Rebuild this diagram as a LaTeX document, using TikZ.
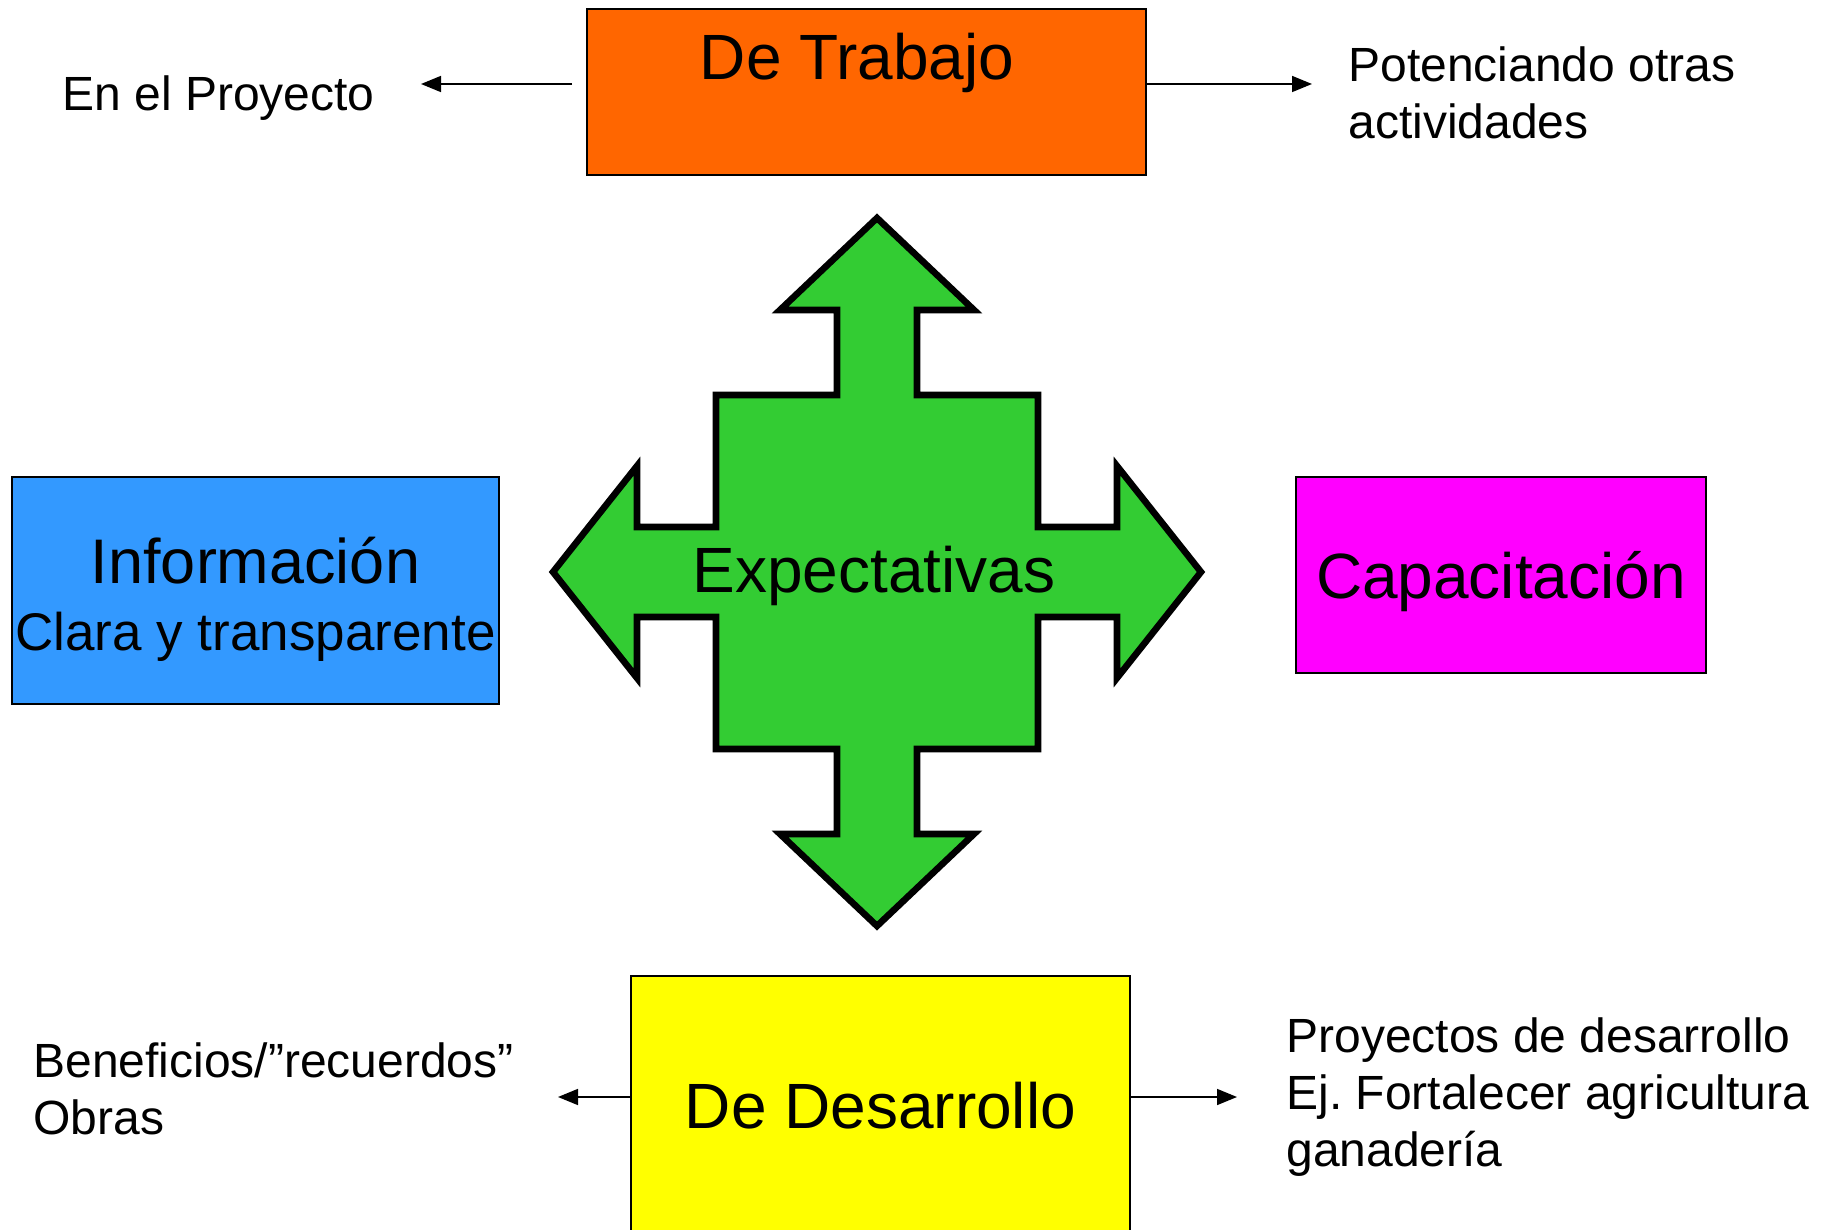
\documentclass[tikz,border=0pt]{standalone}
\usepackage{fontspec}
\setmainfont{Liberation Sans}
\usetikzlibrary{arrows.meta, positioning}
\definecolor{naranja}{HTML}{FF6600}
\definecolor{azul}{HTML}{3399FF}
\definecolor{fucsia}{HTML}{FF00FF}
\definecolor{amarillo}{HTML}{FFFF00}
\definecolor{verde}{HTML}{33CC33}
\newcommand{\bigtext}{\fontsize{32}{38}\selectfont}
\newcommand{\notetext}{\fontsize{24}{28.5}\selectfont}
\tikzset{
	box/.style={draw, rectangle, line width=1pt, inner sep=0pt, font=\bigtext},
	note/.style={inner sep=0pt, align=left, font=\notetext},
	conn/.style={-{Triangle[length=10pt, width=8pt]}, line width=0.8pt},
	% the four-way arrow in the middle
	cross/.style={draw, line width=3.3pt, fill=verde, line join=miter},
}

\begin{document}
\begin{tikzpicture}[x=0.5pt, y=-0.5pt]
	\useasboundingbox (0,0) rectangle (1833,1230);
	
	\draw[cross] (877,218) -- (974,310) -- (917,310) -- (917,395) -- (1038,395) -- (1038,527)
		-- (1117,527) -- (1117,466) -- (1201,572) -- (1117,678) -- (1117,617) -- (1038,617)
		-- (1038,749) -- (917,749) -- (917,834) -- (974,834) -- (877,926) -- (780,834)
		-- (837,834) -- (837,749) -- (716,749) -- (716,617) -- (637,617) -- (637,678)
		-- (553,572) -- (637,466) -- (637,527) -- (716,527) -- (716,395) -- (837,395)
		-- (837,310) -- (780,310) -- cycle;
	\node (expect) [font=\bigtext, anchor=base] at (874,592) {Expectativas};
	
	\node (trabajo) [box, fill=naranja, minimum width=279.5pt, minimum height=83pt] at (866.5,92) {};
	\node (trabajotxt) [font=\bigtext, anchor=base] at (857,80) {De Trabajo};
	
	\node (info) [box, fill=azul, minimum width=243.5pt, minimum height=113.5pt] at (255.5,590.5) {};
	\node (infotxt) [font=\fontsize{31.5}{38}\selectfont, anchor=base] at (255.5,583) {Información};
	\node (infosub) [font=\fontsize{26.5}{32}\selectfont, anchor=base] at (255.5,650) {Clara y transparente};
	
	\node (capa) [box, fill=fucsia, minimum width=205pt, minimum height=98pt, text depth=0pt] at (1501,575) {Capacitación};
	
	\node (desarrollo) [box, fill=amarillo, minimum width=249.5pt, minimum height=130pt] at (880.5,1106) {De Desarrollo};
	
	\coordinate (p1) at (421,84);
	\coordinate (p2) at (1312,84);
	\coordinate (p3) at (558,1097);
	\coordinate (p4) at (1237,1097);
	
	\node (proyecto) [note, anchor=base west] at (62,111) {En el Proyecto};
	\node (otras) [note, anchor=west] at (1348,93) {Potenciando otras\\actividades};
	\node (obras) [note, anchor=west] at (33,1089) {Beneficios/”recuerdos”\\Obras};
	\node (agri) [note, anchor=west] at (1286,1097) {Proyectos de desarrollo\\Ej.\ Fortalecer agricultura\\ganadería};
	
	\begin{scope}[conn]
		\draw[shorten <=7pt] (trabajo.west |- p1) -- (p1);
		\draw (trabajo.east |- p2) -- (p2);
		\draw (desarrollo.west |- p3) -- (p3);
		\draw (desarrollo.east |- p4) -- (p4);
	\end{scope}
	
\end{tikzpicture}
\end{document}
